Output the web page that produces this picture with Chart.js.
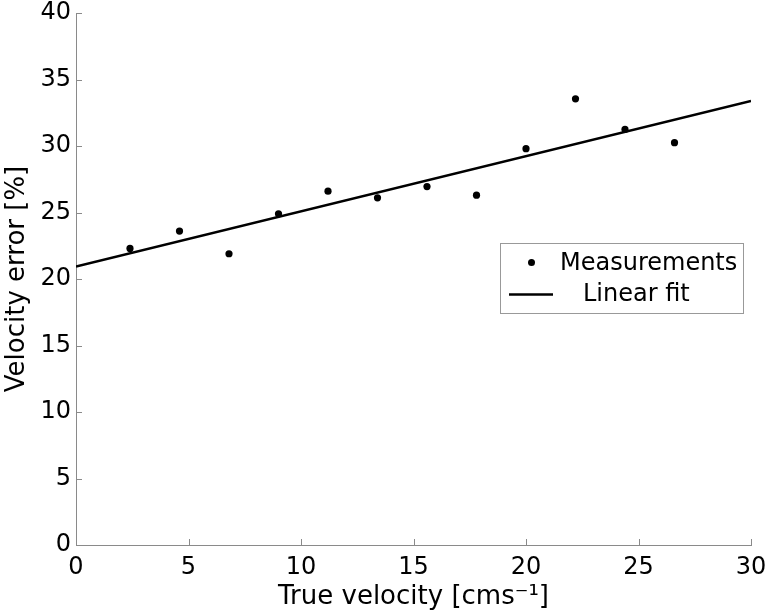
<!DOCTYPE html>
<html>
<head>
<meta charset="utf-8">
<script src="https://cdn.jsdelivr.net/npm/chart.js@4"></script>
<style>
  html, body { margin: 0; padding: 0; background: #fff; }
  #wrap { width: 768px; height: 616px; }
</style>
</head>
<body>
<div id="wrap"><canvas id="chart" width="768" height="616"></canvas></div>
<script>
// measured points
const velocity = [2.4, 4.6, 6.8, 9.0, 11.2, 13.4, 15.6, 17.8, 20.0, 22.2, 24.4, 26.6];
const velocityError = [22.3, 23.6, 21.9, 24.9, 26.6, 26.1, 26.95, 26.3, 29.8, 33.55, 31.25, 30.25];

// linear fit end points
const fitX = [0, 30];
const fitY = [20.93, 33.38];

const xTicks = [0, 5, 10, 15, 20, 25, 30];
const yTicks = [0, 5, 10, 15, 20, 25, 30, 35, 40];

const FONT = "'DejaVu Sans', 'Liberation Sans', sans-serif";
const AXIS_GREY = '#8a8a8a';

// ticks pointing into the plot, y title, and the boxed legend inside the axes
const extras = {
  id: 'extras',
  afterDraw(chart) {
    const { ctx, chartArea, scales } = chart;
    ctx.save();
    ctx.strokeStyle = AXIS_GREY;
    ctx.lineWidth = 1;
    ctx.beginPath();
    xTicks.forEach(v => {
      const px = Math.round(scales.x.getPixelForValue(v)) + 0.5;
      ctx.moveTo(px, chartArea.bottom);
      ctx.lineTo(px, chartArea.bottom - 6);
    });
    yTicks.forEach(v => {
      const py = Math.round(scales.y.getPixelForValue(v)) + 0.5;
      ctx.moveTo(chartArea.left, py);
      ctx.lineTo(chartArea.left + 6, py);
    });
    ctx.stroke();

    ctx.fillStyle = '#000';

    // y axis title
    ctx.save();
    ctx.font = '26px ' + FONT;
    ctx.translate(17, (chartArea.top + chartArea.bottom) / 2);
    ctx.rotate(-Math.PI / 2);
    ctx.textAlign = 'center';
    ctx.textBaseline = 'middle';
    ctx.fillText('Velocity error [%]', 0, 0);
    ctx.restore();

    // legend box
    const bx = 500.5, by = 243.5, bw = 243, bh = 70;
    ctx.fillStyle = '#fff';
    ctx.fillRect(bx, by, bw, bh);
    ctx.strokeStyle = '#999';
    ctx.lineWidth = 1;
    ctx.strokeRect(bx, by, bw, bh);

    ctx.fillStyle = '#000';
    ctx.beginPath();
    ctx.arc(531.5, 262.5, 3.5, 0, Math.PI * 2);
    ctx.fill();

    ctx.strokeStyle = '#000';
    ctx.lineWidth = 2.5;
    ctx.beginPath();
    ctx.moveTo(509, 294.5);
    ctx.lineTo(553, 294.5);
    ctx.stroke();

    ctx.font = '24px ' + FONT;
    ctx.textBaseline = 'middle';
    ctx.textAlign = 'left';
    ctx.fillText('Measurements', 560, 264);
    ctx.fillText('Linear fit', 583, 295);
    ctx.restore();
  }
};

new Chart(document.getElementById('chart'), {
  type: 'scatter',
  data: {
    datasets: [
      {
        label: 'Measurements',
        data: velocity.map((v, i) => ({ x: v, y: velocityError[i] })),
        pointRadius: 3.6,
        pointBackgroundColor: '#000',
        pointBorderWidth: 0,
        showLine: false
      },
      {
        label: 'Linear fit',
        data: fitX.map((v, i) => ({ x: v, y: fitY[i] })),
        showLine: true,
        borderColor: '#000',
        borderWidth: 2.5,
        pointRadius: 0
      }
    ]
  },
  options: {
    responsive: false,
    animation: false,
    layout: { padding: { top: 13, right: 17, left: 0, bottom: 0 } },
    plugins: {
      legend: { display: false },
      tooltip: { enabled: false }
    },
    scales: {
      x: {
        type: 'linear',
        min: 0,
        max: 30,
        afterBuildTicks: s => { s.ticks = xTicks.map(v => ({ value: v })); },
        afterFit: s => { s.height = 71; s.paddingLeft = 0; s.paddingRight = 0; },
        border: { color: AXIS_GREY, width: 1 },
        grid: { display: false, drawTicks: false },
        ticks: {
          color: '#000',
          font: { family: FONT, size: 24 },
          padding: 8,
          maxRotation: 0
        },
        title: {
          display: true,
          text: 'True velocity [cms\u207B\u00B9]',
          color: '#000',
          font: { family: FONT, size: 26 },
          padding: { top: 0, bottom: 3 }
        }
      },
      y: {
        min: 0,
        max: 40,
        afterBuildTicks: s => { s.ticks = yTicks.map(v => ({ value: v })); },
        afterFit: s => { s.width = 76; s.paddingTop = 0; s.paddingBottom = 0; },
        border: { color: AXIS_GREY, width: 1 },
        grid: { display: false, drawTicks: false },
        ticks: {
          color: '#000',
          font: { family: FONT, size: 24 },
          padding: 5
        },
        title: { display: false }
      }
    }
  },
  plugins: [extras]
});
</script>
</body>
</html>
